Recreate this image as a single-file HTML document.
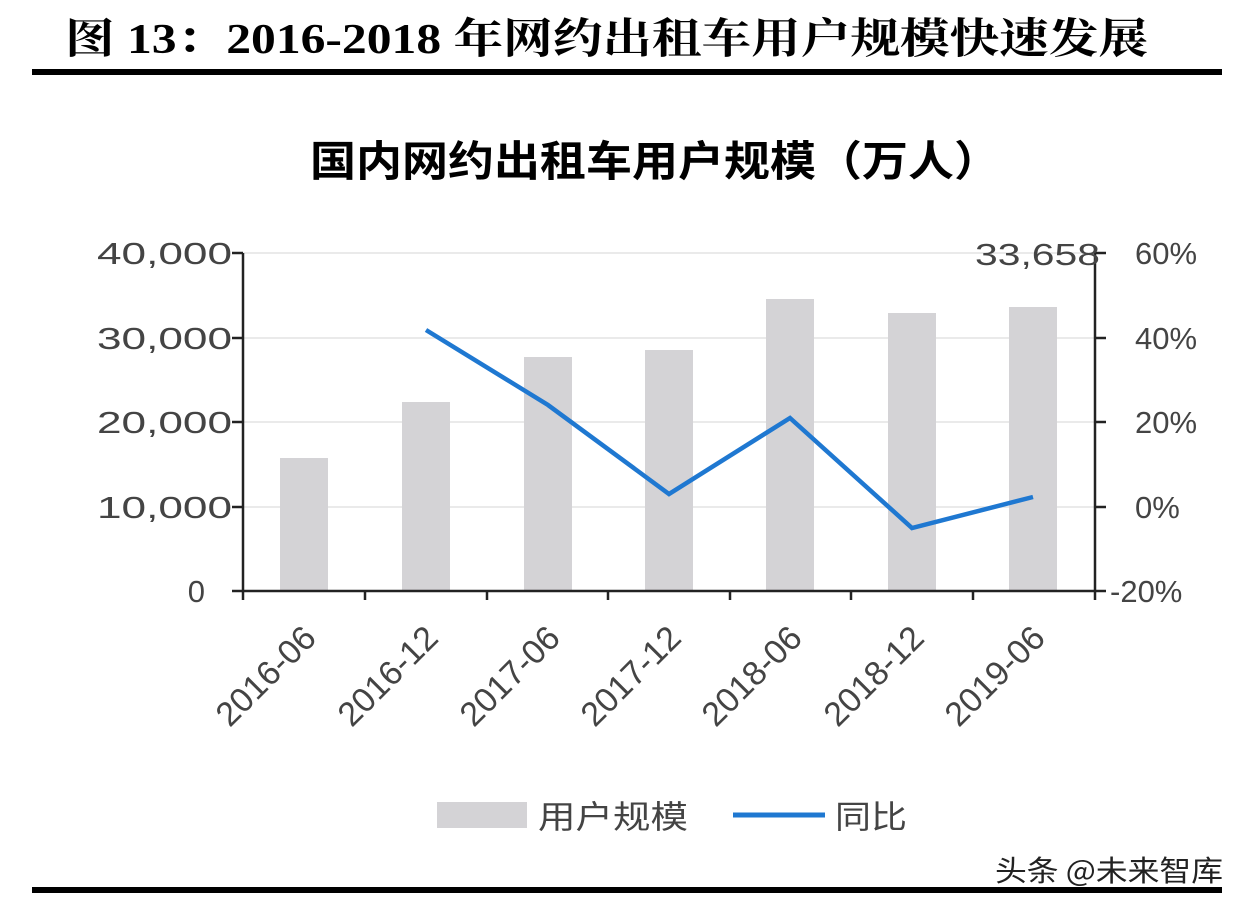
<!DOCTYPE html>
<html><head><meta charset="utf-8"><style>
body{margin:0;background:#fff;width:1248px;height:912px;overflow:hidden;}
</style></head><body>
<svg width="1248" height="912" xmlns="http://www.w3.org/2000/svg" font-family="Liberation Sans, Noto Sans CJK SC, sans-serif">
<text x="65" y="53" font-family="Liberation Serif, Noto Serif CJK SC, serif" font-weight="bold" font-size="42" fill="#000" textLength="1083" lengthAdjust="spacingAndGlyphs">图 13：2016-2018 年网约出租车用户规模快速发展</text>
<rect x="32" y="69" width="1190" height="6" fill="#000"/>
<text x="310" y="176" font-weight="bold" font-size="42" fill="#000" font-family="Noto Sans CJK SC, sans-serif" textLength="690" lengthAdjust="spacingAndGlyphs">国内网约出租车用户规模（万人）</text>
<g stroke="#e4e4e4" stroke-width="1.5">
<line x1="243" y1="253" x2="1095" y2="253"/><line x1="243" y1="338" x2="1095" y2="338"/><line x1="243" y1="422" x2="1095" y2="422"/><line x1="243" y1="507" x2="1095" y2="507"/>
</g>
<g fill="#d4d3d6">
<rect x="280" y="458" width="48" height="133"/>
<rect x="402" y="402" width="48" height="189"/>
<rect x="524" y="357" width="48" height="234"/>
<rect x="645" y="350" width="48" height="241"/>
<rect x="766" y="299" width="48" height="292"/>
<rect x="888" y="313" width="48" height="278"/>
<rect x="1009" y="307" width="48" height="284"/>
</g>
<g stroke="#222" stroke-width="2.5">
<line x1="243" y1="253" x2="243" y2="600"/><line x1="1095" y1="253" x2="1095" y2="600"/>
<line x1="232" y1="591" x2="1106" y2="591"/>
<line x1="232" y1="253" x2="243" y2="253"/><line x1="232" y1="338" x2="243" y2="338"/><line x1="232" y1="422" x2="243" y2="422"/><line x1="232" y1="507" x2="243" y2="507"/>
<line x1="1095" y1="253" x2="1106" y2="253"/><line x1="1095" y1="338" x2="1106" y2="338"/><line x1="1095" y1="422" x2="1106" y2="422"/><line x1="1095" y1="507" x2="1106" y2="507"/>
<line x1="365" y1="591" x2="365" y2="600"/><line x1="487" y1="591" x2="487" y2="600"/><line x1="608" y1="591" x2="608" y2="600"/><line x1="730" y1="591" x2="730" y2="600"/><line x1="851" y1="591" x2="851" y2="600"/><line x1="973" y1="591" x2="973" y2="600"/>
</g>
<polyline points="426,330 548,405 669,494 790,418 912,528 1033,497" fill="none" stroke="#1f78d1" stroke-width="4.5"/>
<g font-size="31" fill="#444" text-anchor="end">
<text x="232" y="264" textLength="135" lengthAdjust="spacingAndGlyphs">40,000</text><text x="232" y="349" textLength="135" lengthAdjust="spacingAndGlyphs">30,000</text><text x="232" y="433" textLength="135" lengthAdjust="spacingAndGlyphs">20,000</text><text x="232" y="518" textLength="135" lengthAdjust="spacingAndGlyphs">10,000</text><text x="205" y="602">0</text>
</g>
<g font-size="31" fill="#444">
<text x="1135" y="264">60%</text><text x="1135" y="349">40%</text><text x="1135" y="433">20%</text><text x="1135" y="518">0%</text><text x="1110" y="602">-20%</text>
</g>
<text x="975" y="265" font-size="31" fill="#444" textLength="125" lengthAdjust="spacingAndGlyphs">33,658</text>
<g font-size="34" fill="#444" text-anchor="end">
<text transform="translate(318,640) rotate(-45)">2016-06</text>
<text transform="translate(440,640) rotate(-45)">2016-12</text>
<text transform="translate(562,640) rotate(-45)">2017-06</text>
<text transform="translate(683,640) rotate(-45)">2017-12</text>
<text transform="translate(804,640) rotate(-45)">2018-06</text>
<text transform="translate(926,640) rotate(-45)">2018-12</text>
<text transform="translate(1047,640) rotate(-45)">2019-06</text>
</g>
<rect x="437" y="802" width="90" height="26" fill="#d4d3d6"/>
<text x="538" y="828" font-size="32" fill="#444" font-family="Noto Sans CJK SC, sans-serif" textLength="150" lengthAdjust="spacingAndGlyphs">用户规模</text>
<line x1="733" y1="815" x2="825" y2="815" stroke="#1f78d1" stroke-width="5"/>
<text x="835" y="828" font-size="32" fill="#444" font-family="Noto Sans CJK SC, sans-serif" textLength="72" lengthAdjust="spacingAndGlyphs">同比</text>
<text x="995" y="881" font-size="29" fill="#222" font-family="Noto Sans CJK SC, sans-serif" textLength="228" lengthAdjust="spacingAndGlyphs">头条 @未来智库</text>
<rect x="32" y="887" width="1190" height="6" fill="#000"/>
</svg>
</body></html>
